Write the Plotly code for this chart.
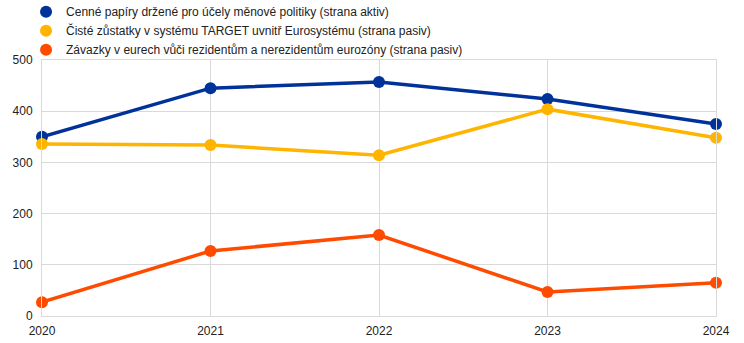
import plotly.graph_objects as go

years = [2020, 2021, 2022, 2023, 2024]
names = [
    "Cenné papíry držené pro účely měnové politiky (strana aktiv)",
    "Čisté zůstatky v systému TARGET uvnitř Eurosystému (strana pasiv)",
    "Závazky v eurech vůči rezidentům a nerezidentům eurozóny (strana pasiv)",
]
securities = [350, 445, 457, 424, 375]
target = [336, 334, 314, 404, 348]
liabilities = [27, 127, 158, 47, 65]
colors = ["#003299", "#FFB400", "#FF4B00"]

fig = go.Figure()
for name, vals, col in zip(names, [securities, target, liabilities], colors):
    fig.add_trace(go.Scatter(x=years, y=vals, mode="lines+markers", name=name,
                             line=dict(color=col, width=3.5),
                             marker=dict(color=col, size=12),
                             showlegend=False, cliponaxis=False))
for name, col in zip(names, colors):
    fig.add_trace(go.Scatter(x=[None], y=[None], mode="markers", name=name,
                             marker=dict(color=col, size=12)))

fig.update_layout(
    width=744, height=343,
    margin=dict(l=42, r=28, t=60, b=27, autoexpand=False),
    paper_bgcolor="white", plot_bgcolor="white",
    font=dict(family="Liberation Sans, Arial, sans-serif", size=12, color="#222222"),
    legend=dict(x=0.035, y=1.245, xref="container", yref="paper",
                xanchor="left", yanchor="top", bgcolor="rgba(0,0,0,0)",
                font=dict(size=12), tracegroupgap=0, itemwidth=30),
    xaxis=dict(range=[2020, 2024], tickmode="array", tickvals=years,
               ticktext=[str(y) for y in years],
               showgrid=True, gridcolor="#d9d9d9", gridwidth=1,
               showline=True, linecolor="#d9d9d9", mirror=True,
               zeroline=False, ticks="", ticklabelstandoff=4),
    yaxis=dict(range=[0, 500], dtick=100, showgrid=True, gridcolor="#d9d9d9",
               showline=True, linecolor="#d9d9d9", mirror=True,
               zeroline=False, ticks="", ticklabelstandoff=6),
)
fig.write_html("out.html")
